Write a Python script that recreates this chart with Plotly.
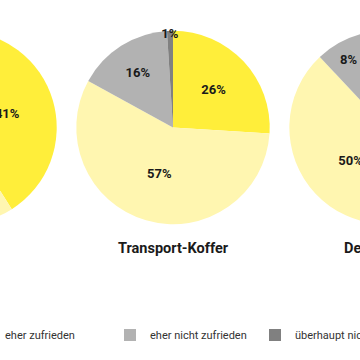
import plotly.graph_objects as go

categories = ["sehr zufrieden", "eher zufrieden", "eher nicht zufrieden", "überhaupt nicht zufrieden"]
groups = ["Tasche", "Transport-Koffer", "Deckelkoffer"]
values_left = [41, 47, 10, 2]
values_mid = [26, 57, 16, 1]
values_right = [38, 50, 8, 4]
colors = ["#FFEE3A", "#FFF6B0", "#B2B2B2", "#808080"]

SHIFT = 180
W, H = 706, 360
R = 96.7
CY = 127.5
centers = [-40 + SHIFT, 173 + SHIFT, 386 + SHIFT]
FONT = "Roboto, sans-serif"

fig = go.Figure()
for i, (g, vals) in enumerate(zip(groups, [values_left, values_mid, values_right])):
    cx = centers[i]
    fig.add_trace(go.Pie(
        labels=categories, values=vals, sort=False, direction="clockwise", rotation=0,
        marker=dict(colors=colors, line=dict(width=0)),
        texttemplate="%{value}%", textposition="inside", insidetextorientation="horizontal",
        textfont=dict(family=FONT, size=13, color="#1a1a1a", weight="bold"),
        domain=dict(x=[(cx - R - 5) / W, (cx + R + 5) / W], y=[(H - CY - R) / H, (H - CY + R) / H]),
        showlegend=(i == 0), hoverinfo="label+percent",
    ))
    fig.add_annotation(text="<b>" + g + "</b>", x=cx / W, y=(H - 248.5) / H, xref="paper", yref="paper",
                       xanchor="center", yanchor="middle", showarrow=False,
                       font=dict(family=FONT, size=14.5, color="#1a1a1a"))

fig.update_layout(
    width=W, height=H, margin=dict(l=0, r=0, t=0, b=0),
    paper_bgcolor="white", plot_bgcolor="white",
    uniformtext=dict(minsize=13, mode="show"),
    legend=dict(orientation="h", x=0, xanchor="left", y=(H - 335) / H, yanchor="middle",
                entrywidth=100, entrywidthmode="pixels", traceorder="normal",
                font=dict(family=FONT, size=11, color="#333333")),
)

fig.write_html("out.html", post_script=(
    "document.body.style.margin='0';document.body.style.overflow='hidden';"
    "var d=document.getElementById('{plot_id}');d.style.marginLeft='-" + str(SHIFT) + "px';"
))
